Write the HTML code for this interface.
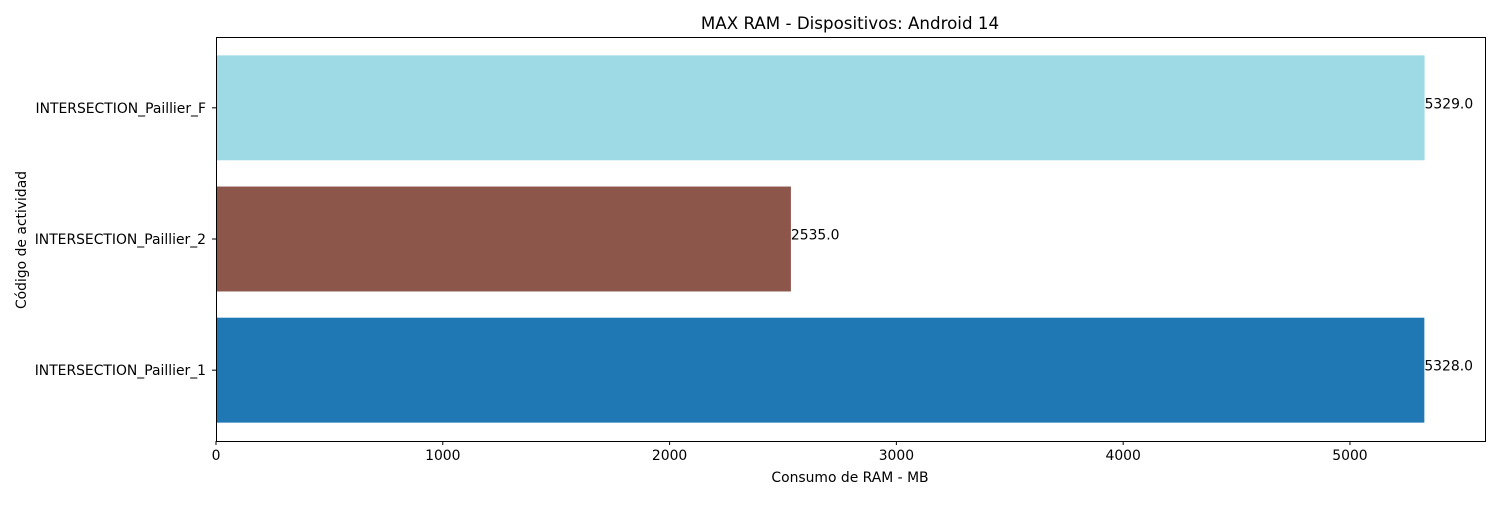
<!DOCTYPE html>
<html><head><meta charset="utf-8"><style>
body{margin:0;background:#fff;font-family:"Liberation Sans","DejaVu Sans",sans-serif;}
svg text{font-family:"DejaVu Sans","Liberation Sans",sans-serif;}
</style></head><body>
<svg id="chart" width="1500" height="500" xmlns="http://www.w3.org/2000/svg">
<rect width="1500" height="500" fill="#fff"/>
<text x="850" y="29" font-size="16.7" text-anchor="middle">MAX RAM - Dispositivos: Android 14</text>
<g id="bars"></g>
<g id="xticks"></g>
<g id="yticks"></g>
<rect x="216.5" y="37.5" width="1269" height="404" fill="none" stroke="#000" stroke-width="1"/>
<text x="850" y="482" font-size="13.9" text-anchor="middle">Consumo de RAM - MB</text>
<text transform="translate(26,240) rotate(-90)" font-size="13.9" text-anchor="middle">Código de actividad</text>
</svg>
<script>
const categories=["INTERSECTION_Paillier_1","INTERSECTION_Paillier_2","INTERSECTION_Paillier_F"];
const values=[5328.0,2535.0,5329.0];
const colors=["#1f77b4","#8c564b","#9edae5"];
const xTicks=[0,1000,2000,3000,4000,5000];
const L=216,R=1485,T=37,B=441;
const xMax=Math.max(...values)*1.05;
const x=v=>L+(v/xMax)*(R-L);
const yMin=-0.54,yMax=2.54;
const y=v=>B-(v-yMin)/(yMax-yMin)*(B-T);
const ns="http://www.w3.org/2000/svg";
const bars=document.getElementById('bars'),xt=document.getElementById('xticks'),yt=document.getElementById('yticks');
function mk(t,a){const e=document.createElementNS(ns,t);for(const k in a)e.setAttribute(k,a[k]);return e;}
categories.forEach((c,i)=>{
  const h=y(i-0.4)-y(i+0.4);
  const r=mk('rect',{x:x(0),y:y(i+0.4),width:x(values[i])-x(0),height:h,fill:colors[i]});
  
  
  bars.appendChild(r);
  const lb=mk('text',{x:x(values[i]),y:y(i)+0.5,'font-size':13.9});
  lb.textContent=values[i].toFixed(1);
  
  
  bars.appendChild(lb);
  const tk=mk('line',{x1:L-4,x2:L,y1:y(i),y2:y(i),stroke:'#000'});
  
  
  yt.appendChild(tk);
  const tl=mk('text',{x:L-10,y:y(i)+5,'font-size':13.9,'text-anchor':'end'});
  tl.textContent=c;
  
  
  yt.appendChild(tl);
});
xTicks.forEach(v=>{
  const tk=mk('line',{x1:x(v),x2:x(v),y1:B,y2:B+4,stroke:'#000'});
  
  
  xt.appendChild(tk);
  const tl=mk('text',{x:x(v),y:B+19,'font-size':13.9,'text-anchor':'middle'});
  tl.textContent=v;
  
  
  xt.appendChild(tl);
});
</script>
</body></html>
